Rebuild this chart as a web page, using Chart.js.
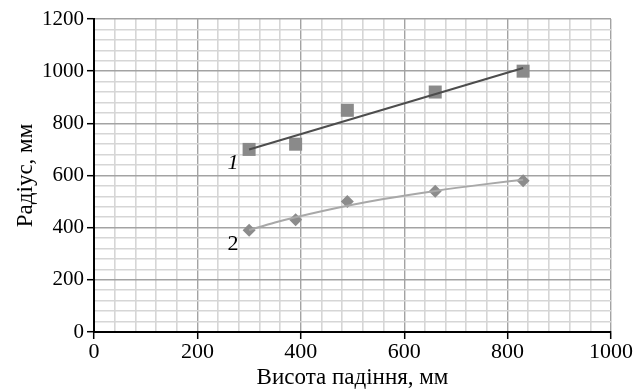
<!DOCTYPE html>
<html>
<head>
<meta charset="utf-8">
<script src="https://cdn.jsdelivr.net/npm/chart.js@4/dist/chart.umd.min.js"></script>
<style>
  html, body { margin: 0; padding: 0; background: #fff; }
  #wrap { width: 641px; height: 392px; }
</style>
</head>
<body>
<div id="wrap"><canvas id="radiusChart" width="641" height="392"></canvas></div>
<script>
const dropHeights = [300, 390, 490, 660, 830]
const radius1 = [700, 720, 850, 920, 1000]
const radius2 = [390, 430, 500, 540, 580]

// trend lines
const trend1X = [300, 830]
const trend1Y = [700, 1012]
const trend2X = [300, 350, 390, 490, 560, 660, 750, 830]
const trend2Y = [391, 420, 440, 484, 510, 541, 565, 584]

const seriesLabels = ['1', '2']
const seriesLabelStyles = ['italic', 'normal']
const xTitle = 'Висота падіння, мм'
const yTitle = 'Радіус, мм'

const serif = "'Liberation Serif', 'Times New Roman', serif"

function toPoints(xs, ys) {
  return xs.map((x, i) => ({ x: x, y: ys[i] }))
}

function isMajor(ctx) {
  return ctx.tick && ctx.tick.value % 200 === 0
}

const curveLabels = {
  id: 'curveLabels',
  afterDatasetsDraw(chart) {
    const { ctx, scales } = chart
    const firstYs = [radius1[0], radius2[0]]
    ctx.save()
    ctx.fillStyle = '#000'
    ctx.textAlign = 'center'
    ctx.textBaseline = 'middle'
    seriesLabels.forEach((text, i) => {
      const px = scales.x.getPixelForValue(dropHeights[0])
      const py = scales.y.getPixelForValue(firstYs[i])
      ctx.font = seriesLabelStyles[i] + ' 22px ' + serif
      ctx.fillText(text, px - 16, py + 14)
    })
    ctx.restore()
  }
}

function gridFor() {
  return {
    color: ctx => isMajor(ctx) ? '#a3a3a3' : '#d6d6d6',
    lineWidth: ctx => isMajor(ctx) ? 1.4 : 1.6,
    tickColor: ctx => isMajor(ctx) ? '#000' : 'rgba(0,0,0,0)',
    tickLength: 7,
    tickWidth: 1.5
  }
}

const ctx = document.getElementById('radiusChart').getContext('2d')

new Chart(ctx, {
  type: 'scatter',
  data: {
    datasets: [
      {
        label: 'trend 1',
        data: toPoints(trend1X, trend1Y),
        showLine: true,
        borderColor: '#4d4d4d',
        borderWidth: 2,
        pointRadius: 0,
        order: 0
      },
      {
        label: 'trend 2',
        data: toPoints(trend2X, trend2Y),
        showLine: true,
        borderColor: '#a8a8a8',
        borderWidth: 2,
        pointRadius: 0,
        cubicInterpolationMode: 'monotone',
        order: 0
      },
      {
        label: '1',
        data: toPoints(dropHeights, radius1),
        pointStyle: 'rect',
        pointRadius: 9.2,
        backgroundColor: '#8a8a8a',
        borderColor: '#8a8a8a',
        borderWidth: 0,
        order: 1
      },
      {
        label: '2',
        data: toPoints(dropHeights, radius2),
        pointStyle: 'rectRot',
        pointRadius: 6.5,
        backgroundColor: '#8c8c8c',
        borderColor: '#8c8c8c',
        borderWidth: 0,
        order: 1
      }
    ]
  },
  options: {
    responsive: false,
    animation: false,
    layout: { padding: { top: 19, right: 30, left: 0, bottom: 0 } },
    plugins: {
      legend: { display: false },
      tooltip: { enabled: false }
    },
    scales: {
      x: {
        type: 'linear',
        min: 0,
        max: 1000,
        afterFit: scale => { scale.height = 60 },
        border: { color: '#000', width: 2 },
        grid: gridFor(),
        ticks: {
          stepSize: 40,
          autoSkip: false,
          maxRotation: 0,
          padding: 0,
          color: '#000',
          font: { family: serif, size: 22 },
          callback: v => v % 200 === 0 ? v : ''
        },
        title: {
          display: true,
          text: xTitle,
          color: '#000',
          font: { family: serif, size: 23 },
          padding: { top: 0, bottom: 0 }
        }
      },
      y: {
        type: 'linear',
        min: 0,
        max: 1200,
        afterFit: scale => { scale.width = 94 },
        border: { color: '#000', width: 2 },
        grid: gridFor(),
        ticks: {
          stepSize: 40,
          autoSkip: false,
          padding: 3,
          color: '#000',
          font: { family: serif, size: 21 },
          callback: v => v % 200 === 0 ? v : ''
        },
        title: {
          display: true,
          text: yTitle,
          color: '#000',
          font: { family: serif, size: 23 },
          padding: { top: 12, bottom: 0 }
        }
      }
    }
  },
  plugins: [curveLabels]
})
</script>
</body>
</html>
